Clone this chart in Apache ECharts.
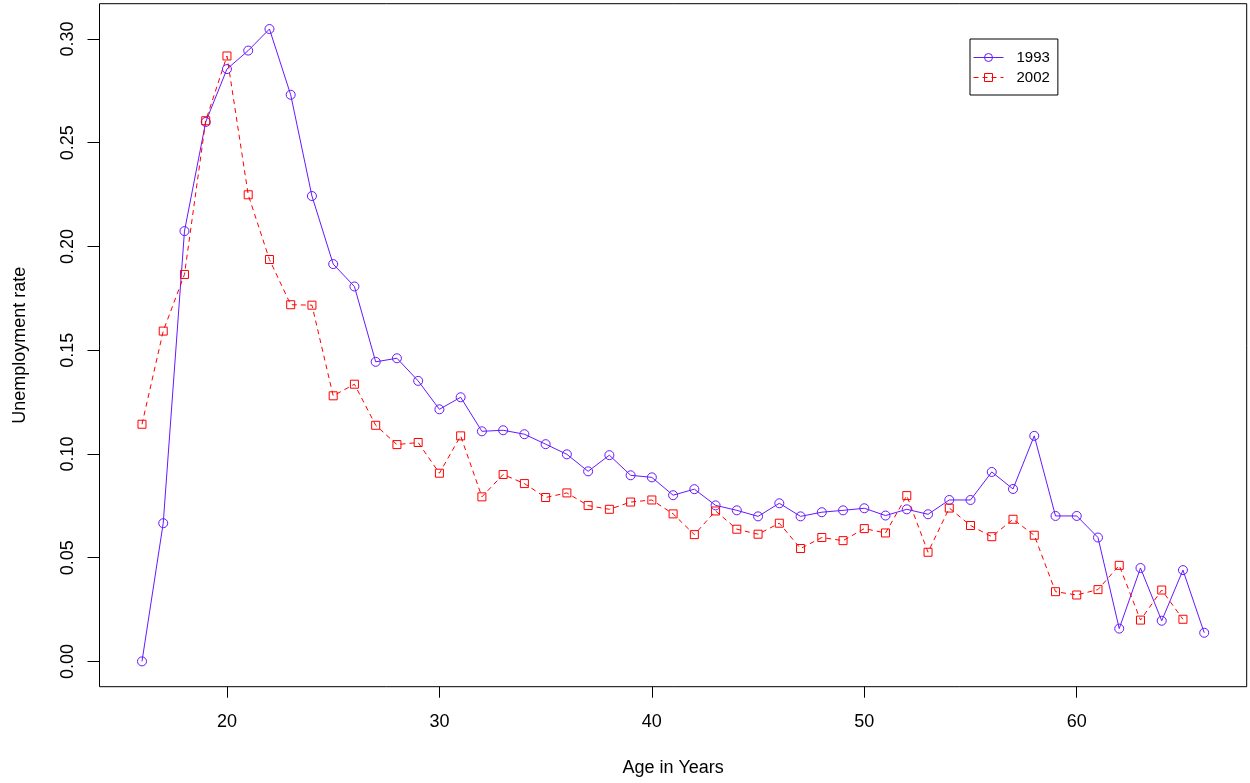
<!DOCTYPE html>
<html>
<head>
    <meta charset="UTF-8"/>
    <title>Unemployment rate by age</title>
    <script src="https://cdn.jsdelivr.net/npm/echarts@6/dist/echarts.min.js"></script>
    <style>
        html, body { margin: 0; padding: 0; background: #fff; }
        #main { width: 1250px; height: 783px; }
    </style>
</head>
<body>
<div id="main"></div>
<script type="text/javascript">
    // ages 16..66 (1993) and 16..65 (2002)
    var ages1993 = [16, 17, 18, 19, 20, 21, 22, 23, 24, 25, 26, 27, 28, 29, 30, 31, 32, 33, 34, 35,
        36, 37, 38, 39, 40, 41, 42, 43, 44, 45, 46, 47, 48, 49, 50, 51, 52, 53, 54, 55,
        56, 57, 58, 59, 60, 61, 62, 63, 64, 65, 66];
    var rate1993 = [0.000, 0.0666, 0.2074, 0.2600, 0.2855, 0.2944, 0.3048, 0.2731, 0.2243, 0.1915,
        0.1807, 0.1444, 0.1461, 0.1352, 0.1215, 0.1273, 0.1109, 0.1114, 0.1095, 0.1047,
        0.0998, 0.0916, 0.0994, 0.0897, 0.0887, 0.0801, 0.0830, 0.0752, 0.0728, 0.0699,
        0.0762, 0.0699, 0.0719, 0.0728, 0.0738, 0.0703, 0.0733, 0.0709, 0.0778, 0.0778,
        0.0913, 0.0831, 0.1087, 0.0701, 0.0701, 0.0597, 0.0158, 0.0450, 0.0196, 0.0440,
        0.0138];

    var ages2002 = [16, 17, 18, 19, 20, 21, 22, 23, 24, 25, 26, 27, 28, 29, 30, 31, 32, 33, 34, 35,
        36, 37, 38, 39, 40, 41, 42, 43, 44, 45, 46, 47, 48, 49, 50, 51, 52, 53, 54, 55,
        56, 57, 58, 59, 60, 61, 62, 63, 64, 65];
    var rate2002 = [0.1143, 0.1592, 0.1865, 0.2606, 0.2918, 0.2249, 0.1937, 0.1719, 0.1717, 0.1280,
        0.1336, 0.1138, 0.1045, 0.1055, 0.0907, 0.1087, 0.0793, 0.0901, 0.0857, 0.0790,
        0.0812, 0.0751, 0.0733, 0.0768, 0.0778, 0.0711, 0.0611, 0.0725, 0.0637, 0.0613,
        0.0666, 0.0544, 0.0597, 0.0582, 0.0640, 0.0619, 0.0799, 0.0526, 0.0739, 0.0655,
        0.0601, 0.0685, 0.0608, 0.0336, 0.0320, 0.0346, 0.0463, 0.0199, 0.0344, 0.0203];

    var xTicks = [20, 30, 40, 50, 60];
    var yTicks = [0, 0.05, 0.10, 0.15, 0.20, 0.25, 0.30];

    function pairs(xs, ys) {
        var out = [];
        for (var i = 0; i < xs.length; i++) {
            out.push([xs[i], ys[i]]);
        }
        return out;
    }

    var FONT = "'Liberation Sans', Arial, sans-serif";
    var BLUE = '#6618ff';
    var RED = '#ff0000';

    var myChart = echarts.init(document.getElementById('main'));

    var option = {
        backgroundColor: '#fff',
        animation: false,
        textStyle: {fontFamily: FONT, color: '#000'},
        grid: {
            left: 99.5, top: 3.7, right: 3.3, bottom: 96.3,
            show: true, borderColor: '#000', borderWidth: 1, backgroundColor: 'transparent'
        },
        legend: {
            left: 970, top: 39,
            orient: 'vertical',
            padding: [11, 8, 10, 3],
            itemWidth: 30, itemHeight: 10, itemGap: 5,
            borderColor: '#000', borderWidth: 1,
            lineStyle: {width: 1},
            itemStyle: {borderWidth: 1, color: 'transparent'},
            textStyle: {fontFamily: FONT, fontSize: 15, color: '#000', padding: [0, 0, 0, 8]},
            data: ['1993', '2002']
        },
        xAxis: {
            type: 'value', min: 14, max: 68,
            name: 'Age in Years', nameLocation: 'middle', nameGap: 72,
            nameTextStyle: {fontFamily: FONT, fontSize: 18, color: '#000'},
            axisLine: {show: false, onZero: false},
            splitLine: {show: false},
            axisTick: {show: true, inside: false, length: 11, customValues: xTicks,
                lineStyle: {color: '#000', width: 1}},
            axisLabel: {fontFamily: FONT, fontSize: 18, color: '#000', margin: 26, customValues: xTicks}
        },
        yAxis: {
            type: 'value', min: -0.0122, max: 0.317,
            name: 'Unemployment rate', nameLocation: 'middle', nameGap: 70, nameRotate: 90,
            nameTextStyle: {fontFamily: FONT, fontSize: 18, color: '#000'},
            axisLine: {show: false, onZero: false},
            splitLine: {show: false},
            axisTick: {show: true, inside: false, length: 12, customValues: yTicks,
                lineStyle: {color: '#000', width: 1}},
            axisLabel: {
                fontFamily: FONT, fontSize: 18, color: '#000', margin: 22, rotate: 90,
                customValues: yTicks,
                formatter: function (v) { return v.toFixed(2); }
            }
        },
        series: [{
            name: '1993',
            type: 'line',
            data: pairs(ages1993, rate1993),
            symbol: 'circle',
            symbolSize: 9,
            itemStyle: {color: 'transparent', borderColor: BLUE, borderWidth: 1},
            lineStyle: {color: BLUE, width: 1},
            emphasis: {disabled: true}
        }, {
            name: '2002',
            type: 'line',
            data: pairs(ages2002, rate2002),
            symbol: 'rect',
            symbolSize: 8,
            itemStyle: {color: 'transparent', borderColor: RED, borderWidth: 1},
            lineStyle: {color: RED, width: 1, type: [5, 4]},
            emphasis: {disabled: true}
        }]
    };

    myChart.setOption(option);
</script>
</body>
</html>
